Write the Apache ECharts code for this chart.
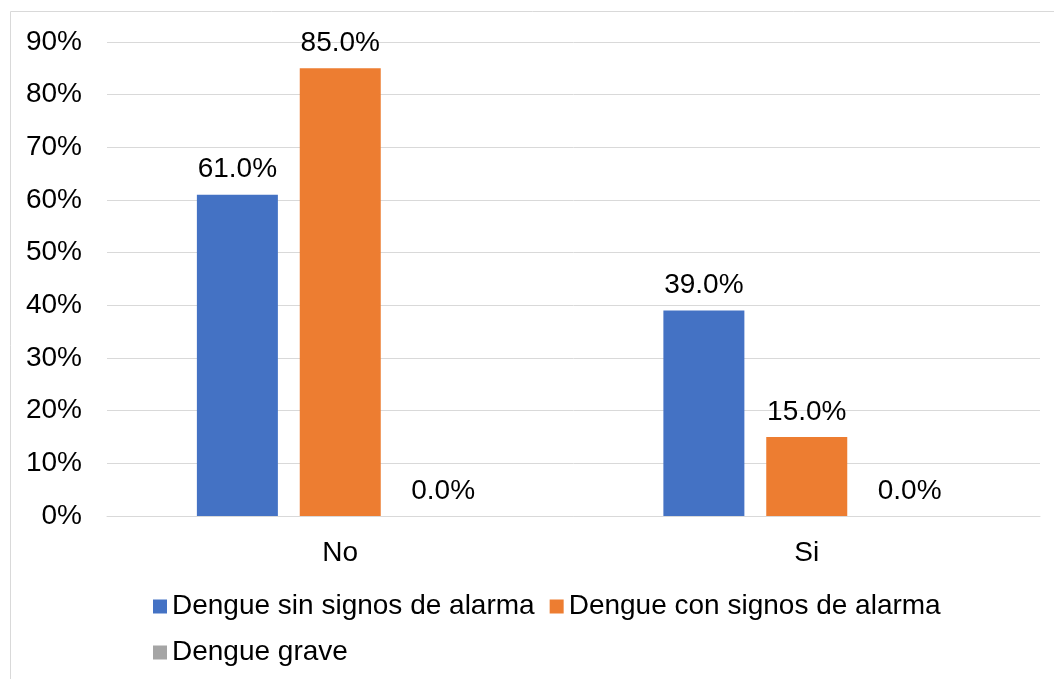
<!DOCTYPE html>
<html>
<head>
<meta charset="utf-8">
<script src="https://cdn.jsdelivr.net/npm/echarts@6/dist/echarts.min.js"></script>
<style>
  html, body { margin: 0; padding: 0; background: #fff; }
  #chart { width: 1054px; height: 679px; }
</style>
</head>
<body>
<div id="chart"></div>
<script>
const categories = ['No', 'Si'];
const sinSignos = [61.0, 39.0];
const conSignos = [85.0, 15.0];
const grave = [0.0, 0.0];
const seriesNames = ['Dengue sin signos de alarma', 'Dengue con signos de alarma', 'Dengue grave'];

const chart = echarts.init(document.getElementById('chart'));
const font = 'Liberation Sans, Arial, sans-serif';
const fs = 28;

const label = {
  show: true,
  position: 'top',
  distance: 11,
  color: '#000',
  fontSize: fs,
  fontFamily: font,
  formatter: (p) => p.value.toFixed(1) + '%'
};

const makeSeries = (name, data, color) => ({
  name: name,
  type: 'bar',
  data: data,
  barWidth: 81,
  barGap: '27%',
  itemStyle: { color: color },
  label: label
});

chart.setOption({
  animation: false,
  graphic: [{
    type: 'rect',
    shape: { x: 10.5, y: 11.5, width: 1100, height: 700 },
    style: { fill: 'none', stroke: '#d9d9d9', lineWidth: 1 },
    silent: true
  }],
  grid: { left: 107, right: 14, top: 42, bottom: 163 },
  xAxis: {
    type: 'category',
    data: categories,
    axisTick: { show: false },
    axisLine: { lineStyle: { color: '#d9d9d9', width: 1 } },
    axisLabel: { color: '#000', fontSize: fs, fontFamily: font, margin: 23 }
  },
  yAxis: {
    type: 'value',
    min: 0,
    max: 90,
    interval: 10,
    axisLine: { show: false },
    axisTick: { show: false },
    splitLine: { lineStyle: { color: '#d9d9d9', width: 1 } },
    axisLabel: { color: '#000', fontSize: fs, fontFamily: font, margin: 25, formatter: '{value}%' }
  },
  legend: {
    left: 148,
    top: 586,
    width: 820,
    icon: 'rect',
    itemWidth: 14,
    itemHeight: 14,
    itemGap: 15,
    data: seriesNames,
    textStyle: { color: '#000', fontSize: fs, fontFamily: font, lineHeight: 31 }
  },
  series: [
    makeSeries(seriesNames[0], sinSignos, '#4472c4'),
    makeSeries(seriesNames[1], conSignos, '#ed7d31'),
    makeSeries(seriesNames[2], grave, '#a5a5a5')
  ]
});
</script>
</body>
</html>
